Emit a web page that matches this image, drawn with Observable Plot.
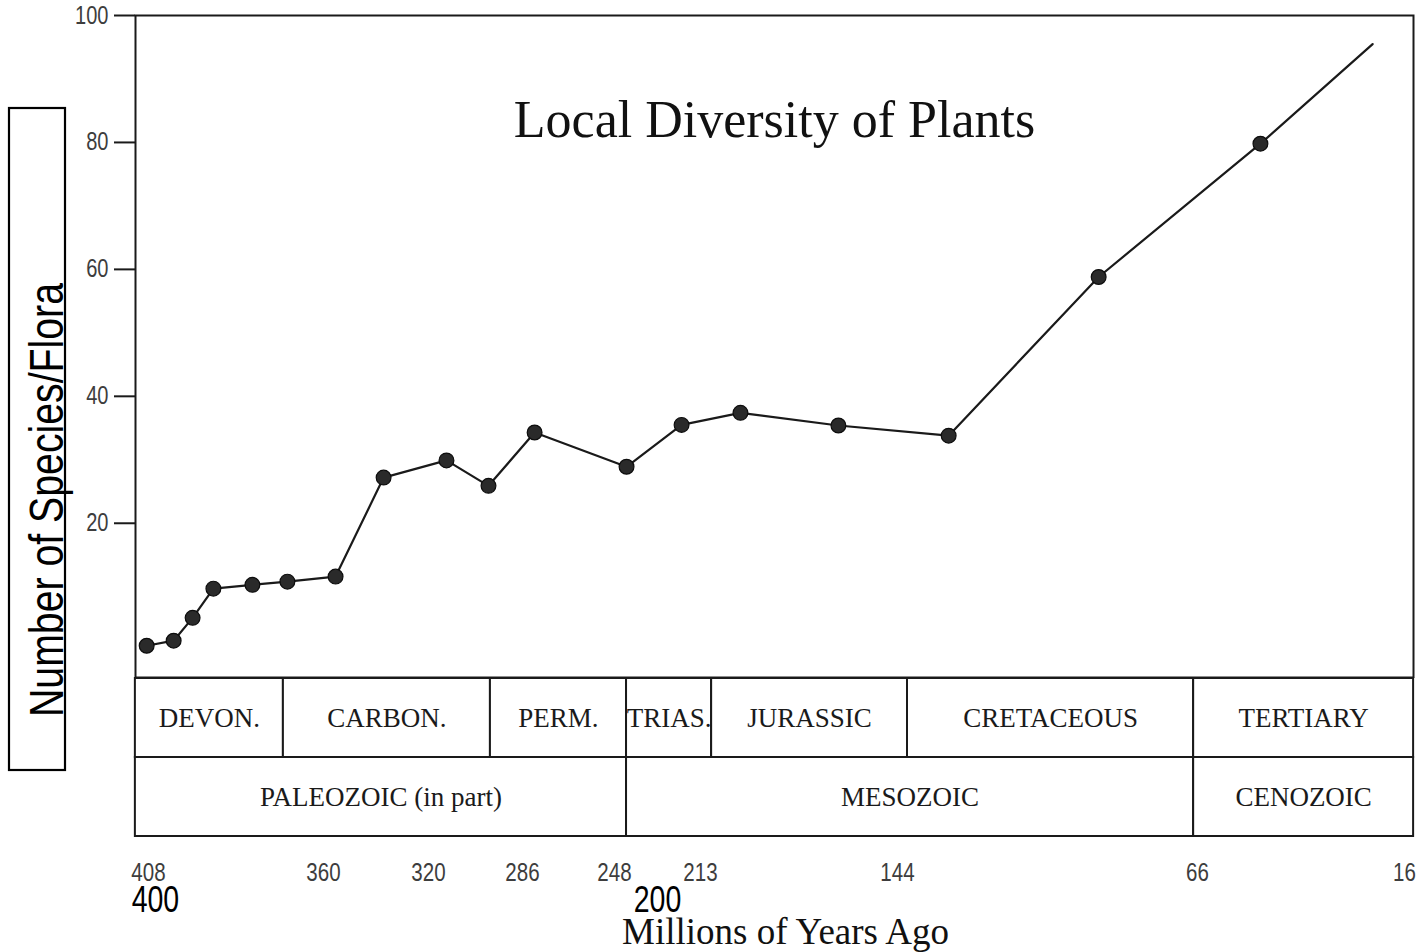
<!DOCTYPE html>
<html><head><meta charset="utf-8">
<script src="https://cdn.jsdelivr.net/npm/d3@7"></script>
<script src="https://cdn.jsdelivr.net/npm/@observablehq/plot@0.6"></script>
<style>
body{margin:0;background:#fff;}
#wrap{position:relative;width:1420px;height:952px;overflow:hidden;background:#fff;}
#wrap > svg{position:absolute;left:0;}
</style></head><body><div id="wrap"></div>
<script>
// ---------- data ----------
const ages    = [408.5, 401.1, 395.9, 390.2, 379.5, 369.9, 355.4, 337.1, 313.5, 298.3, 281.0, 243.1, 220.7, 199.0, 164.7, 130.7, 91.7, 50.8, 23.7];
const species = [0.7, 1.5, 5.1, 9.7, 10.3, 10.8, 11.6, 27.2, 29.9, 25.9, 34.3, 28.9, 35.5, 37.4, 35.4, 33.8, 58.8, 79.8, 95.5];
const marked  = [true, true, true, true, true, true, true, true, true, true, true, true, true, true, true, true, true, true, false];

const tickAges   = [408, 360, 320, 286, 248, 213, 144, 66, 16];
const tickLabels = ["408", "360", "320", "286", "248", "213", "144", "66", "16"];
const yTicks     = [20, 40, 60, 80, 100];

const periodNames = ["DEVON.", "CARBON.", "PERM.", "TRIAS.", "JURASSIC", "CRETACEOUS", "TERTIARY"];
const periodStart = [411.6, 371.0, 297.6, 243.1, 209.1, 141.4, 67.0];
const periodEnd   = [371.0, 297.6, 243.1, 209.1, 141.4, 67.0, 13.8];

const eraNames = ["PALEOZOIC (in part)", "MESOZOIC", "CENOZOIC"];
const eraStart = [411.6, 243.1, 67.0];
const eraEnd   = [243.1, 67.0, 13.8];

const overlayTickValues = [406.1, 230.5];
const overlayTickLabels = ["400", "200"];

const titleText  = "Local Diversity of Plants";
const xTitleText = "Millions of Years Ago";
const yTitleText = "Number of Species/Flora";

// ---------- layout / style ----------
const W = 1420;
const tickPx = [148, 323, 428, 522, 614, 700, 897, 1197, 1404]; // axis geometry of the (non-uniform) time axis
const NARROW = "'Liberation Sans Narrow', 'Liberation Sans', 'Arial Narrow', sans-serif";
const SANS = "'Liberation Sans', Arial, sans-serif";
const SERIF = "'Liberation Serif', 'Times New Roman', serif";
const INK = "#1a1a1a";

const xOptions = {type: "linear", domain: tickAges, range: tickPx};
const xs = Plot.scale({x: xOptions});
const midAge = (a, b) => xs.invert((xs.apply(a) + xs.apply(b)) / 2);

const points = ages.map((a, i) => ({age: a, value: species[i], marked: marked[i]}));
const periods = periodNames.map((n, i) => ({name: n, start: periodStart[i], end: periodEnd[i]}));
const eras = eraNames.map((n, i) => ({name: n, start: eraStart[i], end: eraEnd[i]}));

const wrap = document.getElementById("wrap");

// condense the narrow-sans labels (condensed face is not installed)
function condense(svg, factor) {
  svg.querySelectorAll("text").forEach(t => {
    if (getComputedStyle(t).fontFamily.includes("Narrow")) {
      const L = t.getComputedTextLength();
      t.setAttribute("textLength", (L * factor).toFixed(1));
      t.setAttribute("lengthAdjust", "spacingAndGlyphs");
    }
  });
}

// ---------- top: the diversity curve ----------
const chartTop = Plot.plot({
  width: W, height: 678,
  marginLeft: 135, marginRight: 7, marginTop: 15, marginBottom: 1,
  x: {...xOptions, axis: null},
  y: {domain: [-4.3, 100], axis: null},
  marks: [
    Plot.frame({stroke: INK, strokeWidth: 2}),
    Plot.axisY(yTicks, {tickSize: 21, tickPadding: 6, fontSize: 25, fontFamily: NARROW,
      stroke: INK, strokeWidth: 2, fill: "#3d3d3d", label: null}),
    Plot.line(points, {x: "age", y: "value", stroke: INK, strokeWidth: 2.2}),
    Plot.dot(points.filter(d => d.marked), {x: "age", y: "value", r: 7.4, fill: "#2a2a2a", stroke: "#0d0d0d", strokeWidth: 1.2}),
    Plot.text([titleText], {text: d => d, frameAnchor: "top", dy: 105, lineAnchor: "middle",
      fontSize: 52, fontFamily: SERIF, fill: "#111"})
  ]
});
chartTop.style.top = "0px";
wrap.appendChild(chartTop);
condense(chartTop, 0.8);

// ---------- bottom: geological table + axis ----------
const chartBottom = Plot.plot({
  width: W, height: 277,
  marginLeft: 135, marginRight: 7, marginTop: 2, marginBottom: 116,
  x: {...xOptions, axis: null},
  y: {type: "band", domain: ["period", "era"], padding: 0, axis: null},
  marks: [
    Plot.barX(periods, {x1: "start", x2: "end", y: () => "period", fill: "white", stroke: INK, strokeWidth: 2}),
    Plot.barX(eras, {x1: "start", x2: "end", y: () => "era", fill: "white", stroke: INK, strokeWidth: 2}),
    Plot.text(periods, {x: d => midAge(d.start, d.end), y: () => "period", text: "name",
      fontSize: 27, fontFamily: SERIF, fill: INK}),
    Plot.text(eras, {x: d => midAge(d.start, d.end), y: () => "era", text: "name",
      fontSize: 27, fontFamily: SERIF, fill: INK}),
    Plot.axisX(tickAges, {tickFormat: d => tickLabels[tickAges.indexOf(d)], tickSize: 0, tickPadding: 26,
      fontSize: 26, fontFamily: NARROW, fill: "#3d3d3d", label: null}),
    Plot.text(overlayTickValues, {x: d => d, text: (d, i) => overlayTickLabels[i], frameAnchor: "bottom",
      dy: 64, lineAnchor: "middle", fontSize: 36, fontFamily: NARROW, fill: "#000"}),
    Plot.text([xTitleText], {text: d => d, frameAnchor: "bottom", dx: 11, dy: 96, lineAnchor: "middle",
      fontSize: 37, fontFamily: SERIF, fill: "#111"})
  ]
});
chartBottom.style.top = "675px";
wrap.appendChild(chartBottom);
condense(chartBottom, 0.79);

// ---------- boxed y-axis title ----------
const ySvg = d3.create("svg").attr("width", 80).attr("height", 952).style("top", "0px");
ySvg.append("rect").attr("x", 9).attr("y", 108).attr("width", 56).attr("height", 662)
  .attr("fill", "none").attr("stroke", "#000").attr("stroke-width", 2.2);
ySvg.append("text").attr("transform", "translate(63,500) rotate(-90)")
  .attr("text-anchor", "middle").attr("font-family", SANS).attr("font-size", 48)
  .attr("textLength", 434).attr("lengthAdjust", "spacingAndGlyphs")
  .attr("fill", "#000").text(yTitleText);
wrap.appendChild(ySvg.node());
</script></body></html>
